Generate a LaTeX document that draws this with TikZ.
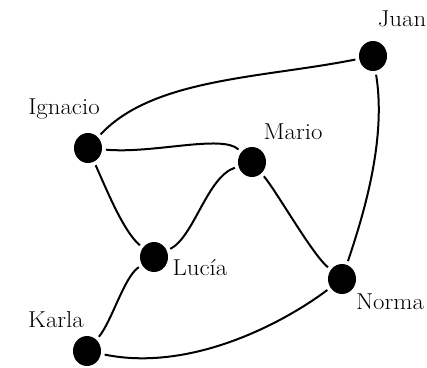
\documentclass[tikz,border=0pt]{standalone}
\usepackage{fontspec}
\setmainfont{Latin Modern Roman}[FakeStretch=1.08]
\usetikzlibrary{shapes.geometric}
\begin{document}
\begin{tikzpicture}[x=1pt,y=-1pt,
  person/.style={ellipse, fill=black, minimum width=28pt, minimum height=30pt, inner sep=0pt, outer sep=4pt},
  lab/.style={anchor=base, inner sep=0pt, font=\fontsize{23}{27}\selectfont},
  link/.style={line width=2pt}]
\useasboundingbox (0,0) rectangle (427,367);
\node[person] (juan) at (373,56) {};
\node[person] (ign) at (88,148) {};
\node[person] (mario) at (252,162) {};
\node[person] (lucia) at (154,257) {};
\node[person] (norma) at (342,279) {};
\node[person] (karla) at (87,351) {};
\node[lab] (ljuan) at (402,26) {Juan};
\node[lab] (lign) at (64,114) {Ignacio};
\node[lab] (lmario) at (293,139) {Mario};
\node[lab] (llucia) at (200,275) {Lucía};
\node[lab] (lnorma) at (390,309) {Norma};
\node[lab] (lkarla) at (56,327) {Karla};
\draw[link] (ign) .. controls +(65,-70) and +(-110,22) .. (juan);
\draw[link] (ign) .. controls +(65,6) and +(-30,-28) .. (mario);
\draw[link] (ign) .. controls +(20,45) and +(-30,-25) .. (lucia);
\draw[link] (mario) .. controls +(-45,15) and +(40,-20) .. (lucia);
\draw[link] (mario) .. controls +(25,30) and +(-30,-25) .. (norma);
\draw[link] (juan) .. controls +(14,85) and +(20,-60) .. (norma);
\draw[link] (lucia) .. controls +(-30,20) and +(25,-30) .. (karla);
\draw[link] (karla) .. controls +(103,21) and +(-60,45) .. (norma);
\end{tikzpicture}
\end{document}
